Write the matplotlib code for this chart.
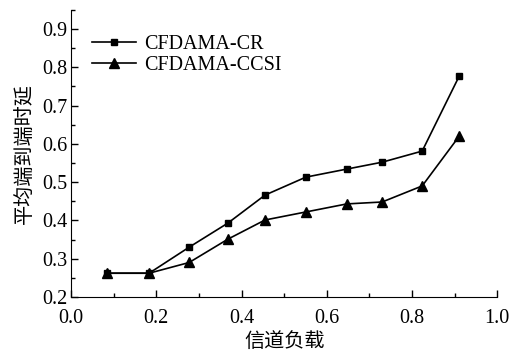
import matplotlib
matplotlib.use("Agg")
import matplotlib.pyplot as plt
from matplotlib.ticker import MultipleLocator

load = [0.085, 0.183, 0.277, 0.368, 0.455, 0.551, 0.647, 0.730, 0.824, 0.911]
cr = [0.262, 0.262, 0.330, 0.393, 0.466, 0.513, 0.534, 0.552, 0.581, 0.777]
ccsi = [0.262, 0.262, 0.290, 0.351, 0.401, 0.422, 0.443, 0.448, 0.490, 0.620]
labels = ["CFDAMA-CR", "CFDAMA-CCSI"]

plt.rcParams['font.family'] = ['Liberation Serif', 'Noto Sans CJK SC']

fig = plt.figure(figsize=(5.12, 3.51), dpi=100)
ax = fig.add_axes([0.139, 0.154, 0.832, 0.818])
ax.plot(load, cr, color='black', lw=1.2, marker='s', ms=4, label=labels[0])
ax.plot(load, ccsi, color='black', lw=1.2, marker='^', ms=7, label=labels[1])

ax.set_xlim(0.0, 1.0)
ax.set_ylim(0.2, 0.95)
ax.xaxis.set_major_locator(MultipleLocator(0.2))
ax.xaxis.set_minor_locator(MultipleLocator(0.1))
ax.yaxis.set_major_locator(MultipleLocator(0.1))
ax.yaxis.set_minor_locator(MultipleLocator(0.05))
ax.xaxis.set_major_formatter(plt.FuncFormatter(lambda v, p: f"{v:.1f}"))
ax.yaxis.set_major_formatter(plt.FuncFormatter(lambda v, p: f"{v:.1f}"))
ax.tick_params(which='both', direction='in', labelsize=14.5, width=1)
ax.tick_params(which='major', length=5)
ax.tick_params(which='minor', length=3)
ax.tick_params(axis='x', which='major', pad=9)
ax.tick_params(axis='y', which='major', pad=3)
ax.spines['top'].set_visible(False)
ax.spines['right'].set_visible(False)

ax.set_xlabel("信道负载", fontsize=14.5, family=['Noto Sans CJK SC'], labelpad=2)
ax.set_ylabel("平均端到端时延", fontsize=14.5, family=['Noto Sans CJK SC'], labelpad=5)

ax.legend(loc='upper left', bbox_to_anchor=(0.049, 0.913), frameon=False, fontsize=14.5,
          handlelength=2.2, handletextpad=0.4, labelspacing=0.1, borderpad=0, borderaxespad=0)

fig.savefig("out.png", dpi=100)
